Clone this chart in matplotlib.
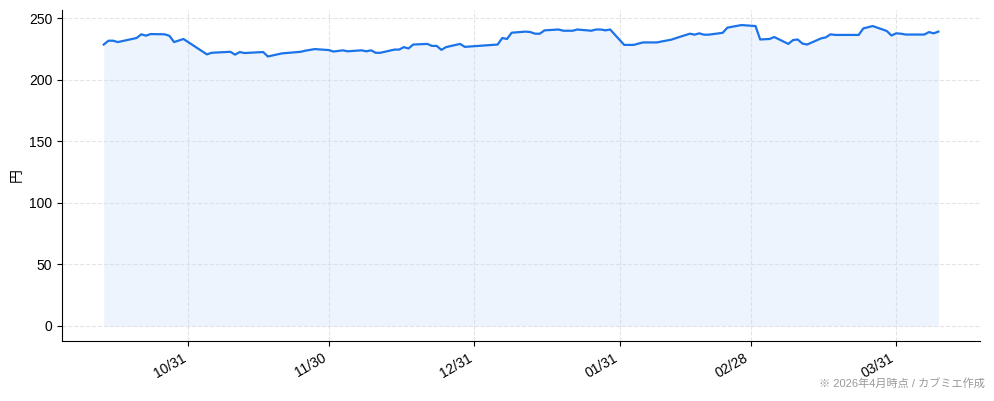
import matplotlib
matplotlib.use('Agg')
import matplotlib.pyplot as plt
import numpy as np
import pandas as pd

plt.rcParams['font.family'] = ['Liberation Sans', 'Noto Sans CJK JP', 'DejaVu Sans']

# 株価の推移（目視で読み取り）
dates = [
    '2025-10-13', '2025-10-14', '2025-10-15', '2025-10-16', '2025-10-20', '2025-10-21',
    '2025-10-22', '2025-10-23', '2025-10-26', '2025-10-27', '2025-10-28', '2025-10-30',
    '2025-11-04', '2025-11-05', '2025-11-09', '2025-11-10', '2025-11-11', '2025-11-12',
    '2025-11-16', '2025-11-17', '2025-11-20', '2025-11-24', '2025-11-25', '2025-11-27',
    '2025-11-30', '2025-12-01', '2025-12-03', '2025-12-04', '2025-12-07', '2025-12-08',
    '2025-12-09', '2025-12-10', '2025-12-11', '2025-12-14', '2025-12-15', '2025-12-16',
    '2025-12-17', '2025-12-18', '2025-12-21', '2025-12-22', '2025-12-23', '2025-12-24',
    '2025-12-25', '2025-12-28', '2025-12-29', '2026-01-05', '2026-01-06', '2026-01-07',
    '2026-01-08', '2026-01-11', '2026-01-12', '2026-01-13', '2026-01-14', '2026-01-15',
    '2026-01-18', '2026-01-19', '2026-01-21', '2026-01-22', '2026-01-25', '2026-01-26',
    '2026-01-27', '2026-01-28', '2026-01-29', '2026-02-01', '2026-02-03', '2026-02-05',
    '2026-02-08', '2026-02-09', '2026-02-11', '2026-02-13', '2026-02-15', '2026-02-16',
    '2026-02-17', '2026-02-18', '2026-02-19', '2026-02-22', '2026-02-23', '2026-02-26',
    '2026-03-01', '2026-03-02', '2026-03-04', '2026-03-05', '2026-03-08', '2026-03-09',
    '2026-03-10', '2026-03-11', '2026-03-12', '2026-03-15', '2026-03-16', '2026-03-17',
    '2026-03-18', '2026-03-23', '2026-03-24', '2026-03-26', '2026-03-29', '2026-03-30',
    '2026-03-31', '2026-04-01', '2026-04-02', '2026-04-06', '2026-04-07', '2026-04-08',
    '2026-04-09',
]
prices = [
    228.5, 231.6, 231.6, 230.5, 233.8, 236.8,
    235.7, 237.0, 236.8, 235.6, 230.5, 233.0,
    220.5, 221.8, 222.6, 220.3, 222.4, 221.6,
    222.4, 218.8, 221.3, 222.6, 223.5, 224.8,
    224.0, 222.8, 223.8, 223.0, 223.8, 223.0,
    223.8, 221.8, 221.8, 224.4, 224.4, 226.4,
    225.3, 228.5, 229.0, 227.4, 227.4, 224.2,
    226.4, 229.0, 226.6, 228.5, 233.8, 233.0,
    238.1, 239.0, 238.6, 237.3, 237.3, 240.0,
    240.7, 239.7, 239.7, 240.7, 239.7, 240.7,
    240.7, 240.0, 240.7, 228.2, 228.2, 230.2,
    230.2, 231.0, 232.4, 234.9, 237.3, 236.5,
    237.6, 236.5, 236.5, 238.0, 242.2, 244.3,
    243.5, 232.6, 233.0, 234.6, 229.0, 232.1,
    232.6, 229.3, 228.5, 233.5, 234.3, 236.8,
    236.3, 236.3, 241.6, 243.5, 239.5, 235.8,
    237.6, 237.3, 236.6, 236.6, 238.6, 237.6,
    239.0,
]
tick_dates = ['2025-10-31', '2025-11-30', '2025-12-31', '2026-01-31', '2026-02-28', '2026-03-31']
tick_labels = ['10/31', '11/30', '12/31', '01/31', '02/28', '03/31']

x = pd.to_datetime(dates)
line_color = '#1a73e8'

fig = plt.figure(figsize=(9.94, 4.01), dpi=100)
ax = fig.add_axes([0.0624, 0.1496, 0.9236, 0.8254])

ax.fill_between(x, prices, 0, color=line_color, alpha=0.08, linewidth=0)
ax.plot(x, prices, color=line_color, linewidth=1.6)

ax.set_xticks(pd.to_datetime(tick_dates))
ax.set_xticklabels(tick_labels, rotation=30, ha='right', fontsize=10)
ax.tick_params(axis='y', labelsize=10)
ax.set_ylabel('円', fontsize=10)
ax.set_yticks([0, 50, 100, 150, 200, 250])

ax.grid(True, linestyle='--', color='#d8d8e0', linewidth=0.8, alpha=0.7)
ax.spines['top'].set_visible(False)
ax.spines['right'].set_visible(False)

fig.text(0.991, 0.03, '※ 2026年4月時点 / カブミエ作成', ha='right', va='bottom',
         fontsize=8, color='#999999')

plt.savefig('out.png', dpi=100)
